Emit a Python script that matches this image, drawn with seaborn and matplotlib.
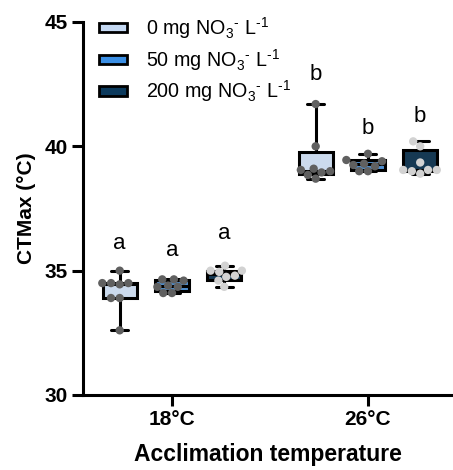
import numpy as np
import pandas as pd
import matplotlib
matplotlib.use("Agg")
import matplotlib.pyplot as plt
import matplotlib.cbook as cbook
import seaborn as sns
from matplotlib.patches import Patch

sns.set_theme(style="ticks")
plt.rcParams['font.family'] = ['Liberation Sans', 'DejaVu Sans']
plt.rcParams['mathtext.fontset'] = 'custom'
plt.rcParams['mathtext.rm'] = 'Liberation Sans'
plt.rcParams['mathtext.it'] = 'Liberation Sans'
for k in ['text.color', 'axes.labelcolor', 'xtick.color', 'ytick.color', 'axes.edgecolor']:
    plt.rcParams[k] = 'black'

temps = ["18°C", "26°C"]
treatments = [r"0 mg NO$_3$$^{\text{-}}$ L$^{\text{-}1}$",
              r"50 mg NO$_3$$^{\text{-}}$ L$^{\text{-}1}$",
              r"200 mg NO$_3$$^{\text{-}}$ L$^{\text{-}1}$"]
t18_0 = [35.0, 34.5, 34.5, 34.5, 34.45, 33.9, 33.9, 32.6]
t18_50 = [34.65, 34.65, 34.6, 34.4, 34.35, 34.35, 34.1, 34.1]
t18_200 = [35.2, 35.0, 35.0, 34.95, 34.8, 34.75, 34.6, 34.35]
t26_0 = [41.7, 40.0, 39.1, 39.05, 39.0, 38.95, 38.85, 38.7]
t26_50 = [39.7, 39.45, 39.4, 39.3, 39.25, 39.2, 39.0, 39.0]
t26_200 = [40.2, 40.0, 39.35, 39.05, 39.05, 39.05, 39.0, 38.9]
letters = ["a", "a", "a", "b", "b", "b"]
letter_y = [36.1, 35.8, 36.5, 42.9, 40.7, 41.2]

groups = [(temps[0], treatments[0], t18_0), (temps[0], treatments[1], t18_50), (temps[0], treatments[2], t18_200),
          (temps[1], treatments[0], t26_0), (temps[1], treatments[1], t26_50), (temps[1], treatments[2], t26_200)]
rows = []
for t, tr, vals in groups:
    for v in vals:
        rows.append({"temp": t, "treat": tr, "ctmax": v})
df = pd.DataFrame(rows)

# Quartiles computed the (n+1)p way, like the original software
_orig_stats = cbook.boxplot_stats


def _gp_stats(X, *args, **kwargs):
    stats = _orig_stats(X, *args, **kwargs)
    arr = np.asarray(X, dtype=float)
    datasets = [arr] if arr.ndim == 1 else list(X)
    for s, x in zip(stats, datasets):
        x = np.asarray(x, dtype=float)
        q1, med, q3 = np.percentile(x, [25, 50, 75], method="weibull")
        s["q1"], s["med"], s["q3"] = q1, med, q3
    return stats


cbook.boxplot_stats = _gp_stats

box_colors = ["#c5d9f3", "#3b8fe5", "#0c3a5d"]
pt_colors = ["#606060", "#606060", "#d2d2d2"]

fig = plt.figure(figsize=(4.53, 4.70), dpi=100)
ax = fig.add_axes([0.1832, 0.1596, 0.8168, 0.7936])

sns.boxplot(data=df, x="temp", y="ctmax", hue="treat", order=temps, hue_order=treatments,
            palette=box_colors, width=0.8, gap=0.35, whis=(0, 100), showfliers=False,
            linecolor="black", linewidth=2.2, ax=ax, legend=False)
sns.swarmplot(data=df, x="temp", y="ctmax", hue="treat", order=temps, hue_order=treatments,
              palette=pt_colors, dodge=True, size=6, ax=ax, legend=False, zorder=5)

# letters
offs = [-0.2667, 0.0, 0.2667]
for i, (lt, ly) in enumerate(zip(letters, letter_y)):
    xi = (i // 3) + offs[i % 3]
    ax.text(xi, ly, lt, ha="center", va="center", fontsize=16)

ax.set_ylim(30, 45)
ax.set_xlim(-0.454, 1.434)
ax.set_yticks([30, 35, 40, 45])
ax.set_xticks([0, 1])
ax.set_xticklabels(temps, fontweight="bold", fontsize=15)
for lab in ax.get_yticklabels():
    lab.set_fontweight("bold")
    lab.set_fontsize(15)
ax.set_ylabel("CTMax (°C)", fontweight="bold", fontsize=15, labelpad=6)
ax.set_xlabel("Acclimation temperature", fontweight="bold", fontsize=16.5, labelpad=10)
for s in ["top", "right"]:
    ax.spines[s].set_visible(False)
for s in ["left", "bottom"]:
    ax.spines[s].set_linewidth(2.2)
ax.tick_params(axis="both", length=8, width=2.2, pad=3)

handles = [Patch(facecolor=c, edgecolor="black", linewidth=2.0) for c in box_colors]
leg = ax.legend(handles, treatments, loc="upper left", bbox_to_anchor=(0.022, 1.04), frameon=False,
                fontsize=14.2, handlelength=1.4, handleheight=0.38, labelspacing=0.3, handletextpad=1.0,
                borderaxespad=0.0)

fig.savefig("out.png", dpi=100)
